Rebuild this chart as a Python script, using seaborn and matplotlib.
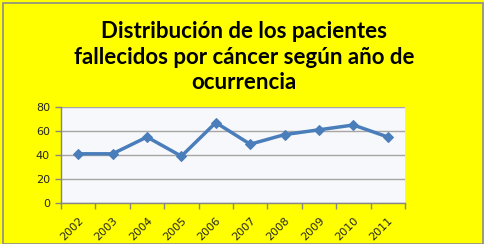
import matplotlib
matplotlib.use("Agg")
import matplotlib.pyplot as plt
import matplotlib.transforms as mtransforms
import seaborn as sns
import pandas as pd
from matplotlib.patches import Rectangle
from matplotlib.ticker import FixedLocator

years = ["2002", "2003", "2004", "2005", "2006", "2007", "2008", "2009", "2010", "2011"]
deaths = [41, 41, 55, 39, 67, 49, 57, 61, 65, 55]
y_ticks = [0, 20, 40, 60, 80]
title = "Distribución de los pacientes\nfallecidos por cáncer según año de\nocurrencia"

df = pd.DataFrame({"year": years, "deaths": deaths})
df["pos"] = range(len(years))

sns.set_theme(style="white")
plt.rcParams["font.family"] = ["DejaVu Sans"]

fig = plt.figure(figsize=(4.85, 2.44), dpi=100)
fig.patch.set_facecolor("#FFFF00")
fig.patches.append(Rectangle((3/485, 0.0), 480/485, 241/244, transform=fig.transFigure,
                             fill=False, edgecolor="#8C8C8C", linewidth=1.2))

ax = fig.add_axes([61/485, 1 - 203/244, 344/485, 96/244])
ax.set_facecolor("#F7F8FB")

sns.lineplot(data=df, x="pos", y="deaths", ax=ax, color="#4A7EBB", linewidth=2.5,
             marker="D", markersize=5.5, markeredgecolor="#4A7EBB", legend=False)

ax.set_xlim(-0.5, len(years) - 0.5)
ax.set_ylim(0, 80)
ax.set_yticks(y_ticks)
ax.yaxis.grid(True, color="#A6A6A6", linewidth=1.0)
ax.set_axisbelow(True)
ax.set_xticks(range(len(years)))
ax.set_xticklabels(years, rotation=45, ha="right", rotation_mode="anchor", fontsize=8)
offset = mtransforms.ScaledTranslation(5/100, 0, fig.dpi_scale_trans)
for lbl in ax.get_xticklabels():
    lbl.set_transform(lbl.get_transform() + offset)
ax.xaxis.set_minor_locator(FixedLocator([i - 0.5 for i in range(len(years) + 1)]))
ax.tick_params(axis="x", which="major", length=0, pad=9)
ax.tick_params(axis="x", which="minor", length=4, color="#868686", width=1, direction="out", bottom=True)
ax.tick_params(axis="y", length=4, color="#868686", width=1, labelsize=8, pad=4, left=True)
ax.set_xlabel("")
ax.set_ylabel("")
for s in ["top", "right"]:
    ax.spines[s].set_visible(False)
for s in ["left", "bottom"]:
    ax.spines[s].set_color("#868686")
    ax.spines[s].set_linewidth(1.0)

fig.text(0.503, 1 - 57/244, title, ha="center", va="center", fontsize=16, fontweight="bold",
         family=["Lato", "DejaVu Sans"], linespacing=1.25, color="black")

fig.savefig("out.png", dpi=100, facecolor=fig.get_facecolor())
